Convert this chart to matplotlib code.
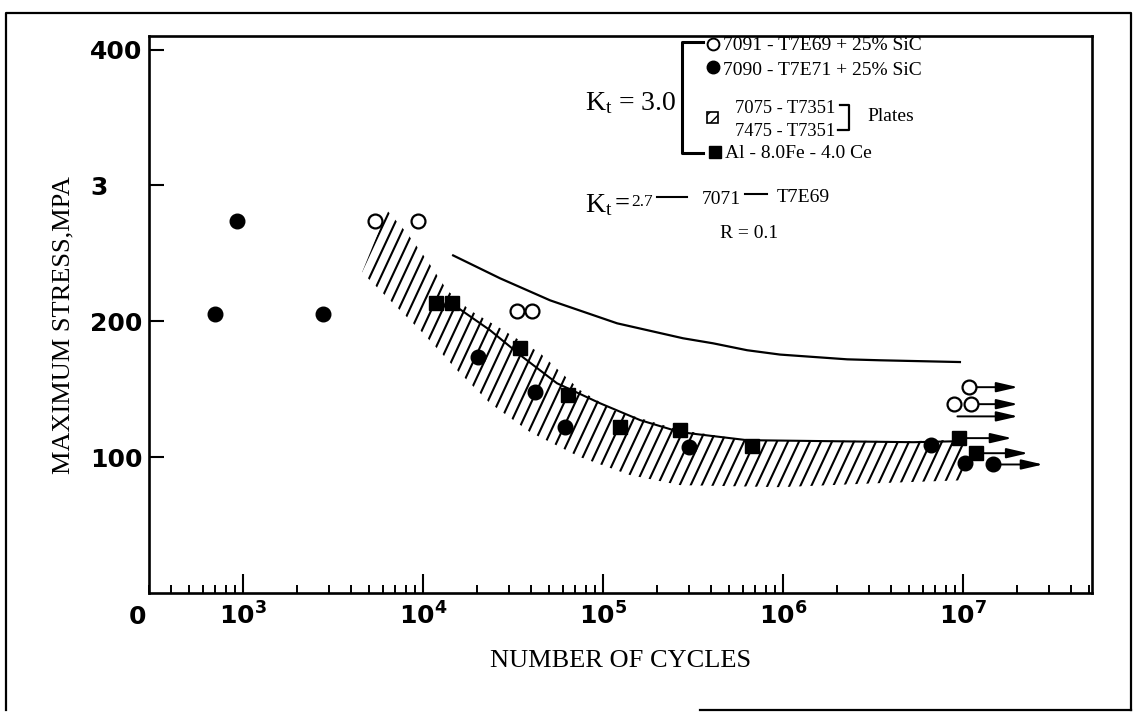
import numpy as np
import matplotlib
matplotlib.use('Agg')
import matplotlib.pyplot as plt
from matplotlib.collections import LineCollection
from matplotlib.lines import Line2D
from matplotlib.patches import Rectangle, ArrowStyle
from matplotlib.ticker import LogLocator, NullFormatter
from matplotlib.transforms import ScaledTranslation

plt.rcParams['mathtext.fontset'] = 'custom'
plt.rcParams['mathtext.rm'] = 'Liberation Serif'
plt.rcParams['mathtext.it'] = 'Liberation Serif:italic'
plt.rcParams['mathtext.bf'] = 'DejaVu Sans:bold'

# ---------------- data (cycles, max stress MPa) ----------------
open_n = [5410, 9380, 33300, 40300, 1.08e7, 8.9e6, 1.11e7]
open_s = [273.5, 273.5, 207.4, 207.4, 151.5, 139, 139]

filled_n = [699, 2783, 926, 20200, 41900, 61500, 300000, 6.64e6, 1.03e7, 1.47e7]
filled_s = [205.1, 205.1, 273.5, 173.5, 147.8, 122, 107.4, 108.8, 95.6, 94.9]

square_n = [11800, 14500, 34600, 64000, 124000, 268000, 673000, 9.5e6, 1.18e7]
square_s = [213.2, 213.2, 180.1, 145.6, 122, 119.9, 108.1, 114, 102.9]

# run-outs (arrows)
arrow_start_n = [1.08e7, 1.11e7, 9.3e6, 9.5e6, 1.18e7, 1.47e7]
arrow_end_n = [2.02e7, 2.02e7, 2.02e7, 1.87e7, 2.3e7, 2.78e7]
arrow_s = [151.5, 139, 130, 114, 102.9, 94.6]

# 7075/7475-T7351 plates scatter band
band_upper_n = [6310, 8150, 10530, 13600, 18240, 26800, 44700, 74500, 113700,
                268000, 631000, 5.27e6, 1.05e7]
band_upper_s = [281.6, 264.7, 244.9, 222.8, 208, 194.9, 176.5, 149.3, 134.6,
                119.9, 112.5, 111.8, 113]
band_lower_n = [4580, 6560, 10000, 15450, 23550, 39300, 74500, 141000, 268000,
                962000, 3.46e6, 1.0e7]
band_lower_s = [236, 215.4, 191.2, 164, 139.7, 118.4, 100, 86.8, 79.4,
                77.9, 80.9, 83]

# mean curve in the band
mean_n = [13600, 23550, 35900, 55400, 96000, 161000, 268000, 630000, 5.27e6, 1.0e7]
mean_s = [215.4, 193.4, 173.5, 154.4, 139.7, 127.2, 118.4, 112.5, 111, 111.8]

# Kt = 2.7  7071-T7E69 curve
kt27_n = [14680, 26800, 50800, 119700, 278000, 408000, 631000, 962000, 2.27e6, 3.46e6, 9.6e6]
kt27_s = [248.5, 231.6, 215.4, 198.5, 187.5, 183.8, 178.7, 175.5, 172, 171.3, 170]

xtick_vals = [1e3, 1e4, 1e5, 1e6, 1e7]
xtick_labels = [r'$\mathbf{10^{3}}$', r'$\mathbf{10^{4}}$', r'$\mathbf{10^{5}}$',
                r'$\mathbf{10^{6}}$', r'$\mathbf{10^{7}}$']
ytick_vals = [100, 200, 300, 400]
ytick_labels = ['100', '200', '3', '400']

# ---------------- figure ----------------
W_PX, H_PX = 1138, 713
fig = plt.figure(figsize=(W_PX / 100, H_PX / 100), dpi=100)


def F(x, y):
    return (x / W_PX, 1 - y / H_PX)


def fline(xs, ys, lw):
    fig.add_artist(Line2D([x / W_PX for x in xs], [1 - y / H_PX for y in ys],
                          transform=fig.transFigure, color='k', lw=lw))


def fmark(x, y, **kw):
    fig.add_artist(Line2D([x / W_PX], [1 - y / H_PX], transform=fig.transFigure,
                          ls='none', **kw))


ax = fig.add_axes([149 / W_PX, 1 - 593 / H_PX, (1092 - 149) / W_PX, (593 - 36) / H_PX])
ax.set_xscale('log')
ax.set_xlim(300, 5.2e7)
ax.set_ylim(0, 410)

for sp in ax.spines.values():
    sp.set_linewidth(1.9)

ax.set_xticks(xtick_vals)
ax.set_xticklabels(xtick_labels)
ax.xaxis.set_minor_locator(LogLocator(base=10, subs=np.arange(2, 10)))
ax.xaxis.set_minor_formatter(NullFormatter())
ax.tick_params(axis='x', which='major', direction='in', length=13.5, width=1.5,
               pad=7, labelsize=18)
ax.tick_params(axis='x', which='minor', direction='in', length=6, width=1.4)
ax.set_yticks(ytick_vals)
ax.set_yticklabels(ytick_labels)
ax.tick_params(axis='y', direction='in', length=11, width=1.5, pad=4.5, labelsize=18)
for lbl in ax.get_yticklabels():
    lbl.set_fontfamily('DejaVu Sans')
    lbl.set_fontweight('bold')
# the "3" label sits further left
lbl3 = ax.get_yticklabels()[2]
lbl3.set_transform(lbl3.get_transform() + ScaledTranslation(-0.35, 0, fig.dpi_scale_trans))

# scatter band with steep custom hatching
poly_x = list(band_upper_n) + list(band_lower_n[::-1])
poly_y = list(band_upper_s) + list(band_lower_s[::-1])
band = ax.fill(poly_x, poly_y, facecolor='none', edgecolor='none', zorder=1)[0]

bb = ax.get_position()
ax_w = bb.width * fig.get_figwidth() * fig.dpi
ax_h = bb.height * fig.get_figheight() * fig.dpi
ang = np.deg2rad(65)
shift = (ax_h / np.tan(ang)) / ax_w
spacing = 11 / ax_w
starts = np.arange(-shift - 0.02, 1.02, spacing)
segs = [[(s0, 0.0), (s0 + shift, 1.0)] for s0 in starts]
lc = LineCollection(segs, transform=ax.transAxes, colors='k', linewidths=1.5, zorder=2)
ax.add_collection(lc, autolim=False)
lc.set_clip_path(band)

# curves
ax.plot(mean_n, mean_s, color='k', lw=1.5, zorder=3)
ax.plot(kt27_n, kt27_s, color='k', lw=1.6, zorder=3)

# run-out arrows
astyle = ArrowStyle('-|>', head_length=1.3, head_width=0.3)
for s0, e0, sv in zip(arrow_start_n, arrow_end_n, arrow_s):
    ax.annotate('', xy=(e0, sv), xytext=(s0, sv),
                arrowprops=dict(arrowstyle=astyle, mutation_scale=10, lw=1.4,
                                color='k', shrinkA=0, shrinkB=0), zorder=3)

# data markers
ax.plot(square_n, square_s, 's', ms=10, mfc='k', mec='k', mew=1, zorder=5)
ax.plot(filled_n, filled_s, 'o', ms=10.5, mfc='k', mec='k', mew=1, zorder=5)
ax.plot(open_n, open_s, 'o', ms=10, mfc='white', mec='k', mew=1.6, zorder=6)

# axis labels
fig.text(*F(63, 325), 'MAXIMUM STRESS,MPA', rotation=90, ha='center', va='center',
         fontsize=19, family='Liberation Serif')
fig.text(*F(621, 667), 'NUMBER OF CYCLES', ha='center', va='baseline',
         fontsize=19, family='Liberation Serif')
fig.text(*F(137, 617), '0', ha='center', va='center', fontsize=18,
         family='DejaVu Sans', fontweight='bold')

# ---------------- legend block ----------------
serif = 'Liberation Serif'
fig.text(*F(585, 110), r'K$_{\mathrm{t}}$ = 3.0', fontsize=20, family=serif,
         ha='left', va='baseline')
fline([703, 682, 682, 703], [42, 42, 153, 153], 2.2)
fmark(712.5, 44, marker='o', ms=8.5, mfc='white', mec='k', mew=1.4)
fmark(712.5, 67, marker='o', ms=9, mfc='k', mec='k')
fig.add_artist(Rectangle(F(707, 123), 11 / W_PX, 11 / H_PX, transform=fig.transFigure,
                         facecolor='white', edgecolor='k', hatch='///', lw=1.2))
fmark(715, 152, marker='s', ms=8.5, mfc='k', mec='k')
fig.text(*F(723, 50.5), '7091 - T7E69 + 25% SiC', fontsize=14, family=serif, va='baseline')
fig.text(*F(723, 75), '7090 - T7E71 + 25% SiC', fontsize=14, family=serif, va='baseline')
fig.text(*F(735, 113), '7075 - T7351', fontsize=13.3, family=serif, va='baseline')
fig.text(*F(735, 136), '7475 - T7351', fontsize=13.3, family=serif, va='baseline')
fline([840, 849, 849, 838], [105, 105, 130, 130], 1.6)
fig.text(*F(867, 121), 'Plates', fontsize=14, family=serif, va='baseline')
fig.text(*F(725, 158), 'Al - 8.0Fe - 4.0 Ce', fontsize=14, family=serif, va='baseline')

fig.text(*F(585, 212), r'K$_{\mathrm{t}}$', fontsize=20, family=serif, va='baseline')
fig.text(*F(615, 210), '=', fontsize=19, family=serif, fontweight='bold', va='baseline')
fig.text(*F(631, 206), '2.7', fontsize=12.5, family=serif, va='baseline')
fline([657, 687], [197, 197], 1.5)
fig.text(*F(702, 204), '7071', fontsize=14, family=serif, va='baseline')
fline([745, 767], [194, 194], 1.5)
fig.text(*F(777, 202), 'T7E69', fontsize=14, family=serif, va='baseline')
fig.text(*F(720, 238), 'R = 0.1', fontsize=14, family=serif, va='baseline')

# outer page frame
frame_lw = 1.6
fline([6, 6, 1131, 1131], [710, 13, 13, 710], frame_lw)
fline([700, 1131], [710, 710], frame_lw)

fig.savefig('out.png', dpi=100)
